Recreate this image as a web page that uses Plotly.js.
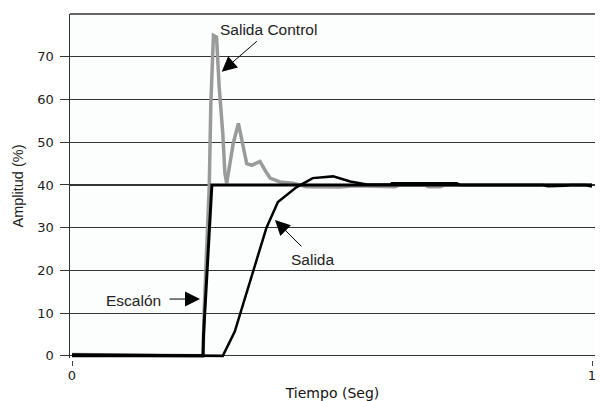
<!DOCTYPE html>
<html>
<head>
<meta charset="utf-8">
<script src="https://cdn.plot.ly/plotly-3.0.1.min.js"></script>
<style>html,body{margin:0;padding:0;background:#fff;}#chart{width:600px;height:401px;}</style>
</head>
<body>
<div id="chart"></div>
<script>
// Escalón (step input)
var stepT = [0, 0.252, 0.253, 0.262, 0.269, 1.0];
var stepV = [0, 0, 5, 25, 40, 40];

// Salida (plant output)
var outT = [0, 0.290, 0.313, 0.374, 0.396, 0.432, 0.463, 0.502, 0.535, 0.567, 0.612, 0.615, 0.740, 0.746, 0.906, 0.915, 0.948, 0.958, 0.987, 1.0];
var outV = [0.3, 0, 5.7, 30, 36, 39.5, 41.6, 42, 40.8, 40.1, 40.1, 40.4, 40.4, 40, 40, 39.7, 39.8, 40, 40, 39.6];

// Salida Control (controller output)
var ctlT = [0, 0.252, 0.254, 0.264, 0.267, 0.272, 0.278, 0.283, 0.290, 0.294, 0.2975, 0.310, 0.320, 0.326, 0.336, 0.3456, 0.3615, 0.371, 0.381, 0.400, 0.425, 0.451, 0.515, 0.544, 0.592, 0.598, 0.621, 0.631, 0.679, 0.685, 0.708, 0.717, 1.0];
var ctlV = [0.3, 0, 10, 40, 59, 75, 74.6, 63, 52, 42.8, 40.4, 49.7, 54.4, 50.5, 45, 44.6, 45.5, 43.5, 41.6, 40.7, 40.4, 39.6, 39.5, 39.8, 39.8, 39.6, 39.6, 40, 40, 39.6, 39.6, 40, 40];

// Axis ticks
var yTicks = [0, 10, 20, 30, 40, 50, 60, 70];
var xTicks = [0, 1];
var xTickText = ['0', '1'];

// Labels
var labelText = ['Salida Control', 'Salida', 'Escalón'];
var labelT = [0.378, 0.4625, 0.118];
var labelV = [76.4, 22.5, 13.0];
var arrowT = [0.2879, 0.3904, 0.2462];
var arrowV = [66.5, 31.8, 13.3];
var arrowAX = [36.6, 28, -32];
var arrowAY = [-31.7, 28, 0];

var traces = [
  {x: ctlT, y: ctlV, mode: 'lines', line: {color: '#9a9a9a', width: 3.5}, hoverinfo: 'skip'},
  {x: stepT, y: stepV, mode: 'lines', line: {color: '#000', width: 3}, hoverinfo: 'skip'},
  {x: outT, y: outV, mode: 'lines', line: {color: '#000', width: 2.5}, hoverinfo: 'skip'}
];

var annotations = [];
for (var i = 0; i < labelText.length; i++) {
  annotations.push({x: labelT[i], y: labelV[i], xref: 'x', yref: 'y', text: labelText[i], showarrow: false,
    font: {family: 'Liberation Sans, Arial, sans-serif', size: 15.5, color: '#222'}});
  annotations.push({x: arrowT[i], y: arrowV[i], xref: 'x', yref: 'y', text: '', showarrow: true,
    ax: arrowAX[i], ay: arrowAY[i], arrowhead: 2, arrowsize: 3, arrowwidth: 1, arrowcolor: '#000'});
}

var layout = {
  width: 600, height: 401,
  margin: {l: 70, r: 5, t: 14, b: 35},
  paper_bgcolor: '#ffffff',
  plot_bgcolor: '#fcfdfd',
  showlegend: false,
  xaxis: {
    range: [-0.00385, 1.00577],
    anchor: 'free', position: 0,
    tickvals: xTicks, ticktext: xTickText,
    ticks: 'inside', ticklen: 5, tickcolor: '#444', tickwidth: 1,
    showgrid: false, zeroline: false, showline: false,
    tickfont: {family: 'DejaVu Sans, sans-serif', size: 13, color: '#222'},
    title: {text: 'Tiempo (Seg)', font: {family: 'DejaVu Sans, sans-serif', size: 14, color: '#111'}, standoff: 9}
  },
  yaxis: {
    range: [-0.5, 80],
    domain: [0.0227, 1],
    tickvals: yTicks,
    ticks: 'outside', ticklen: 9, tickcolor: '#333', tickwidth: 1,
    ticklabelstandoff: 3,
    showgrid: true, gridcolor: '#333333', gridwidth: 1.2,
    zeroline: false,
    showline: true, linecolor: '#333', linewidth: 1.5,
    tickfont: {family: 'DejaVu Sans, sans-serif', size: 13, color: '#222'},
    title: {text: 'Amplitud (%)', font: {family: 'Liberation Sans, Arial, sans-serif', size: 14.5, color: '#222'}, standoff: 10}
  },
  shapes: [
    {type: 'line', xref: 'paper', yref: 'paper', x0: 0, x1: 1, y0: 1, y1: 1, line: {color: '#333', width: 1.5}}
  ],
  annotations: annotations
};

Plotly.newPlot('chart', traces, layout, {displayModeBar: false, staticPlot: true});
</script>
</body>
</html>
